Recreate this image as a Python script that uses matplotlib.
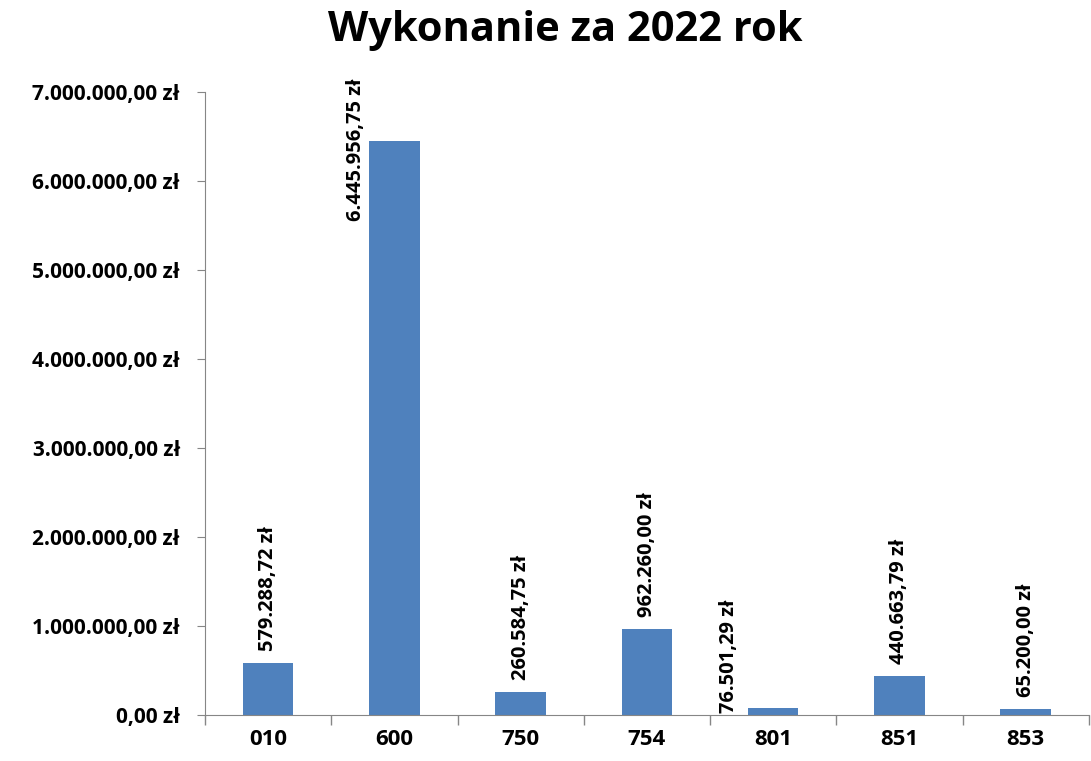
import matplotlib.pyplot as plt
from matplotlib.ticker import FuncFormatter

categories = ["010", "600", "750", "754", "801", "851", "853"]
values = [579288.72, 6445956.75, 260584.75, 962260.00, 76501.29, 440663.79, 65200.00]
labels = ["579.288,72 zł", "6.445.956,75 zł", "260.584,75 zł", "962.260,00 zł",
          "76.501,29 zł", "440.663,79 zł", "65.200,00 zł"]


def pln(v, pos=None):
    s = f"{v:,.2f}".replace(",", " ").replace(".", ",").replace(" ", ".")
    return s + " zł"


plt.rcParams['font.family'] = ['Open Sans', 'DejaVu Sans']

fig = plt.figure(figsize=(10.91, 7.61), dpi=100)
ax = fig.add_axes([0.188, 0.0604, 0.81, 0.8186])

x = list(range(len(categories)))
bars = ax.bar(x, values, width=0.4, color='#4F81BD', zorder=2)

ax.set_xlim(-0.5, len(categories) - 0.5)
ax.set_ylim(0, 7000000)
ax.set_yticks(range(0, 7000001, 1000000))
ax.yaxis.set_major_formatter(FuncFormatter(pln))

# category labels centred, tick marks on the boundaries
ax.set_xticks(x)
ax.set_xticklabels(categories, fontsize=16, fontweight='bold')
ax.tick_params(axis='x', length=0, pad=10)
ax.set_xticks([i + 0.5 for i in range(-1, len(categories))], minor=True)
ax.tick_params(axis='x', which='minor', length=7, color='#868686', width=1)
ax.tick_params(axis='y', length=6, color='#868686', labelsize=15, pad=12)
for lab in ax.get_yticklabels():
    lab.set_fontweight('bold')

for s in ['top', 'right']:
    ax.spines[s].set_visible(False)
ax.spines['left'].set_color('#868686')
ax.spines['bottom'].set_color('#868686')

# value labels, a couple nudged by hand as in the original
offsets = {1: (-38, -80), 4: (-44, -5)}
for i, (b, lab) in enumerate(zip(bars, labels)):
    dx, dy = offsets.get(i, (0, 12))
    ax.annotate(lab, (b.get_x() + b.get_width() / 2, b.get_height()),
                xytext=(dx, dy), textcoords='offset pixels',
                rotation=90, ha='center', va='bottom',
                fontsize=14.5, fontweight='bold', annotation_clip=False)

fig.suptitle("Wykonanie za 2022 rok", fontsize=30, fontweight='bold', x=0.518, y=0.987, va='top')

fig.savefig("out.png", dpi=100)
